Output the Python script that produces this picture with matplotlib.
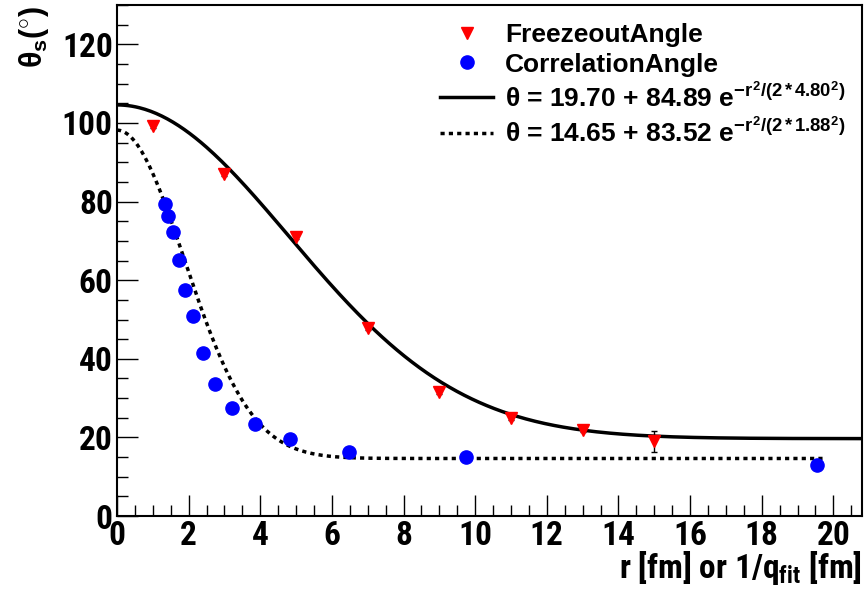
import numpy as np
import matplotlib
matplotlib.use('Agg')
import matplotlib.pyplot as plt
from matplotlib.ticker import MultipleLocator
from matplotlib.lines import Line2D

# freeze-out angle vs r
r_freeze = [1, 3, 5, 7, 9, 11, 13, 15]
theta_freeze = [99.2, 87.0, 71.0, 47.8, 31.5, 25.0, 21.8, 19.0]
err_freeze = [0.5, 0.5, 0.5, 0.5, 0.5, 0.5, 0.5, 2.6]

# correlation angle vs 1/q_fit
r_corr = [1.34, 1.43, 1.56, 1.73, 1.90, 2.12, 2.40, 2.74, 3.21, 3.85, 4.83, 6.48, 9.75, 19.55]
theta_corr = [79.4, 76.3, 72.2, 65.2, 57.6, 51.0, 41.6, 33.5, 27.4, 23.3, 19.5, 16.4, 14.9, 13.1]

# gaussian fit parameters (offset, amplitude, sigma)
fit_freeze = (19.70, 84.89, 4.80)
fit_corr = (14.65, 83.52, 1.88)


def gaus(r, p):
    return p[0] + p[1] * np.exp(-r**2 / (2 * p[2]**2))


NARROW = ['Roboto Condensed', 'DejaVu Sans']

plt.rcParams['font.family'] = ['Liberation Sans', 'DejaVu Sans']
plt.rcParams['font.weight'] = 'bold'
plt.rcParams['mathtext.fontset'] = 'custom'
plt.rcParams['mathtext.rm'] = 'Liberation Sans:bold'
plt.rcParams['mathtext.it'] = 'Liberation Sans:bold'
plt.rcParams['mathtext.bf'] = 'Liberation Sans:bold'

fig = plt.figure(figsize=(8.64, 5.98), dpi=100)
ax = fig.add_axes([0.1354, 0.137, 0.8623, 0.8546])

xx = np.linspace(0, 20.8, 400)
xc = np.linspace(0, 19.7, 400)
ax.plot(xx, gaus(xx, fit_freeze), color='black', lw=2.5)
ax.plot(xc, gaus(xc, fit_corr), color='black', lw=2.5, ls=(0, (1.2, 1.2)))

ax.errorbar(r_freeze, theta_freeze, yerr=err_freeze, fmt='v', color='red',
            ms=9, ecolor='black', elinewidth=1, capsize=2, zorder=5)
ax.plot(r_corr, theta_corr, 'o', color='blue', ms=9.5, zorder=5)

# legend entries (ROOT style, no frame)
h1 = Line2D([], [], ls='none', marker='v', color='red', ms=9)
h2 = Line2D([], [], ls='none', marker='o', color='blue', ms=9.5)
h3 = Line2D([], [], color='black', lw=2.5)
h4 = Line2D([], [], color='black', lw=2.5, ls=(0, (1.2, 1.2)))
lab1 = r'$\theta$ = 19.70 + 84.89 e$^{-r^2/(2\,{*}\,4.80^2)}$'
lab2 = r'$\theta$ = 14.65 + 83.52 e$^{-r^2/(2\,{*}\,1.88^2)}$'
ax.legend([h1, h2, h3, h4], ['FreezeoutAngle', 'CorrelationAngle', lab1, lab2],
          loc='upper left', bbox_to_anchor=(0.42, 0.985), frameon=False,
          prop={'family': 'Liberation Sans', 'weight': 'bold', 'size': 19},
          handlelength=2.0, handletextpad=0.45, labelspacing=0.2,
          borderaxespad=0)

ax.set_xlim(0, 20.8)
ax.set_ylim(0, 130)
ax.xaxis.set_major_locator(MultipleLocator(2))
ax.xaxis.set_minor_locator(MultipleLocator(0.5))
ax.yaxis.set_major_locator(MultipleLocator(20))
ax.yaxis.set_minor_locator(MultipleLocator(5))
ax.tick_params(which='both', direction='in', top=False, right=False)
ax.tick_params(which='major', length=15, width=1)
ax.tick_params(which='minor', length=8, width=1)
ax.tick_params(axis='both', labelsize=24, pad=3)
for lab in ax.get_xticklabels() + ax.get_yticklabels():
    lab.set_family(NARROW)
    lab.set_weight('bold')
for s in ax.spines.values():
    s.set_linewidth(1.5)

ax.set_xlabel(r'r [fm] or 1/q$_{\mathregular{fit}}$ [fm]', loc='right', fontsize=24,
              family=NARROW, weight='bold', labelpad=-2)
fig.text(0.02, 0.99, r'$\theta_{s}$($^{\circ}$)', rotation=90, va='top', ha='left',
         fontsize=22)

fig.savefig('out.png', dpi=100)
